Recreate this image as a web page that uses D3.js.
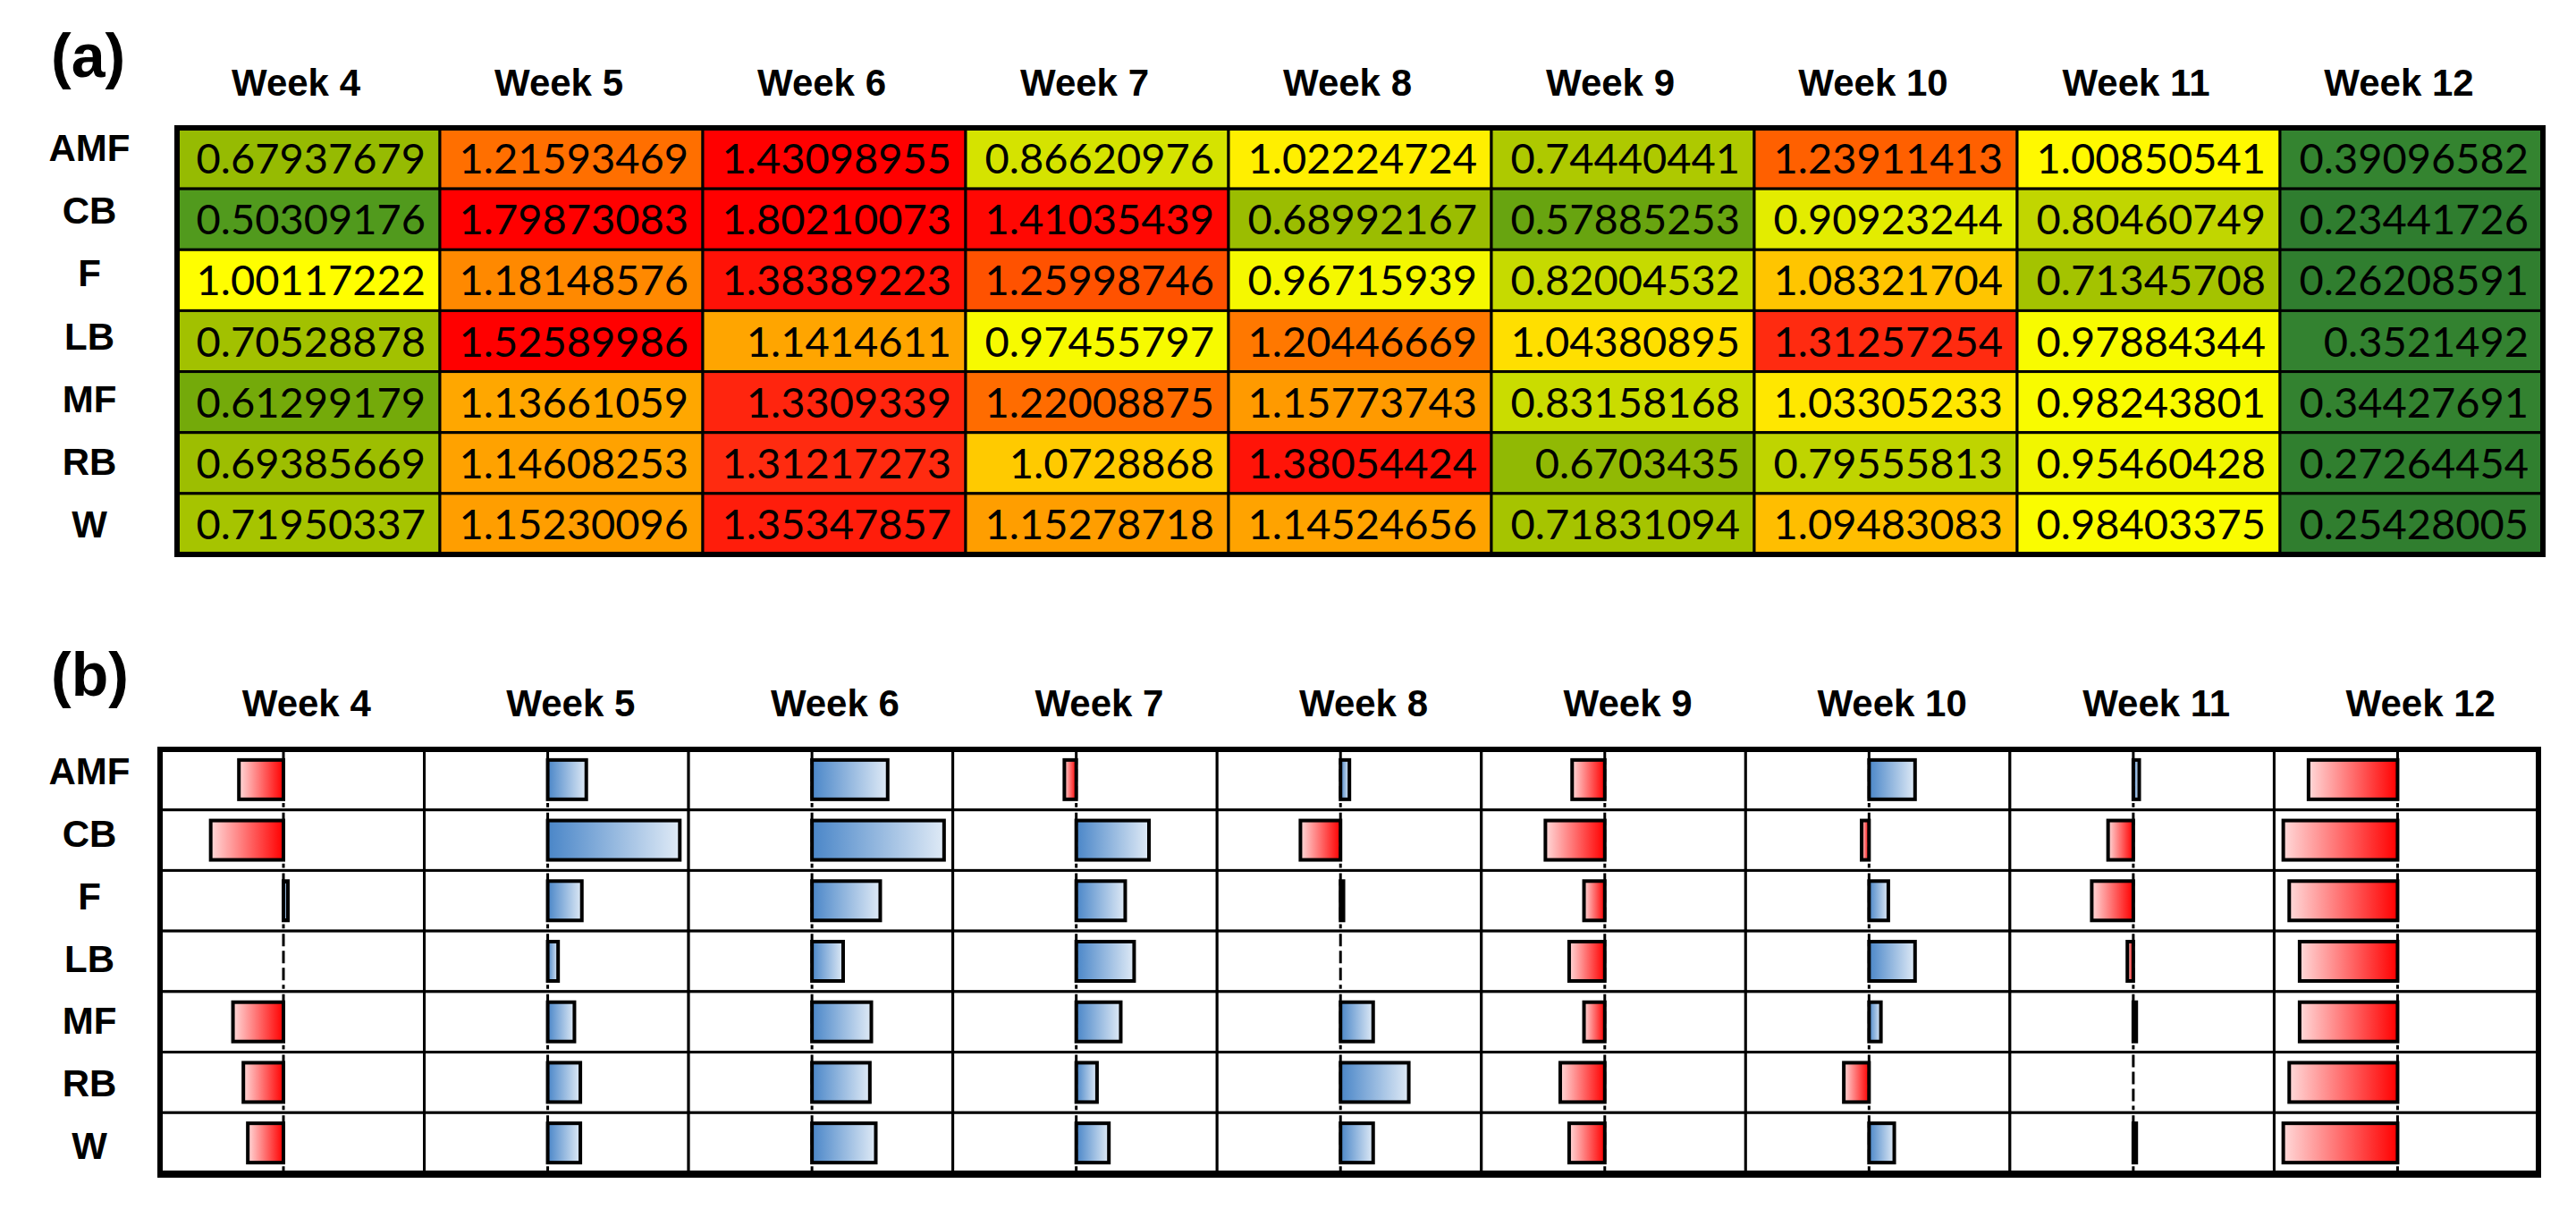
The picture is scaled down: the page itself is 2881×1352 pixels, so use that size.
<!DOCTYPE html>
<html lang="en">

<head>
    <meta charset="utf-8">
    <title>weekly ratios</title>
</head>
<style>
    body {
        margin: 0;
        background: white;
    }

    .head {
        font-family: "Liberation Sans", Arial, sans-serif;
        font-weight: bold;
    }

    .cell text {
        font-family: Lato, "Open Sans", sans-serif;
    }
</style>

<body>
    <script src="https://cdn.jsdelivr.net/npm/d3@7"></script>
    <script>
        // categories
        var weeks = ["Week 4", "Week 5", "Week 6", "Week 7", "Week 8", "Week 9", "Week 10", "Week 11", "Week 12"];
        var groups = ["AMF", "CB", "F", "LB", "MF", "RB", "W"];

        // (a) ratio per week, one list per group
        var ratioAMF = [0.67937679, 1.21593469, 1.43098955, 0.86620976, 1.02224724, 0.74440441, 1.23911413, 1.00850541, 0.39096582];
        var ratioCB = [0.50309176, 1.79873083, 1.80210073, 1.41035439, 0.68992167, 0.57885253, 0.90923244, 0.80460749, 0.23441726];
        var ratioF = [1.00117222, 1.18148576, 1.38389223, 1.25998746, 0.96715939, 0.82004532, 1.08321704, 0.71345708, 0.26208591];
        var ratioLB = [0.70528878, 1.52589986, 1.1414611, 0.97455797, 1.20446669, 1.04380895, 1.31257254, 0.97884344, 0.3521492];
        var ratioMF = [0.61299179, 1.13661059, 1.3309339, 1.22008875, 1.15773743, 0.83158168, 1.03305233, 0.98243801, 0.34427691];
        var ratioRB = [0.69385669, 1.14608253, 1.31217273, 1.0728868, 1.38054424, 0.6703435, 0.79555813, 0.95460428, 0.27264454];
        var ratioW = [0.71950337, 1.15230096, 1.35347857, 1.15278718, 1.14524656, 0.71831094, 1.09483083, 0.98403375, 0.25428005];

        // (b) data bar values per week, one list per group
        var barAMF = [-0.30, 0.26, 0.51, -0.08, 0.06, -0.22, 0.31, 0.04, -0.60];
        var barCB = [-0.49, 0.89, 0.89, 0.49, -0.27, -0.40, -0.05, -0.17, -0.77];
        var barF = [0.03, 0.23, 0.46, 0.33, 0.02, -0.14, 0.13, -0.28, -0.73];
        var barLB = [0, 0.07, 0.21, 0.39, 0, -0.24, 0.31, -0.04, -0.66];
        var barMF = [-0.34, 0.18, 0.40, 0.30, 0.22, -0.14, 0.08, 0.02, -0.66];
        var barRB = [-0.27, 0.22, 0.39, 0.14, 0.46, -0.30, -0.17, 0, -0.73];
        var barW = [-0.24, 0.22, 0.43, 0.22, 0.22, -0.24, 0.17, 0.02, -0.77];

        var ratioRows = [ratioAMF, ratioCB, ratioF, ratioLB, ratioMF, ratioRB, ratioW];
        var barRows = [barAMF, barCB, barF, barLB, barMF, barRB, barW];

        var width = 2881, height = 1352;

        var svg = d3.select("body")
            .append("svg")
            .attr("width", width)
            .attr("height", height);

        var defs = svg.append("defs");
        var gradRed = defs.append("linearGradient").attr("id", "gradRed");
        gradRed.append("stop").attr("offset", "0%").attr("stop-color", "#ffd9d9");
        gradRed.append("stop").attr("offset", "100%").attr("stop-color", "#ff0000");
        var gradBlue = defs.append("linearGradient").attr("id", "gradBlue");
        gradBlue.append("stop").attr("offset", "0%").attr("stop-color", "#4a86c8");
        gradBlue.append("stop").attr("offset", "100%").attr("stop-color", "#dfeaf6");

        // green - yellow - red colour scale for the table
        var color = d3.scaleLinear()
            .domain([0.23, 0.42, 0.5, 0.6, 0.7, 0.85, 1, 1.07, 1.15, 1.22, 1.26, 1.31, 1.38, 1.43])
            .range(["#2f7d2f", "#358530", "#509a1e", "#6ea70c", "#a0c000", "#d0e000", "#ffff00",
                "#ffcc00", "#ffa000", "#ff6c00", "#ff5200", "#ff2c10", "#ff1408", "#ff0000"])
            .clamp(true);

        // ---------- (a) ----------
        var xA = d3.scaleBand().domain(weeks).range([198, 2844]);
        var yA = d3.scaleBand().domain(groups).range([143, 620]);
        var labA = d3.scalePoint().domain(groups).range([165, 586]);

        var gA = svg.append("g");

        gA.append("text").attr("class", "head")
            .attr("x", 57).attr("y", 86)
            .attr("font-size", 68)
            .text("(a)");

        gA.selectAll("text.week")
            .data(weeks)
            .join("text")
            .attr("class", "head week")
            .attr("x", d => xA(d) + xA.bandwidth() / 2 - 14)
            .attr("y", 107)
            .attr("text-anchor", "middle")
            .attr("font-size", 42)
            .text(d => d);

        gA.selectAll("text.grp")
            .data(groups)
            .join("text")
            .attr("class", "head grp")
            .attr("x", 100)
            .attr("y", d => labA(d) + 15)
            .attr("text-anchor", "middle")
            .attr("font-size", 42)
            .text(d => d);

        var cells = [];
        groups.forEach((g, i) => {
            weeks.forEach((w, j) => {
                cells.push({ group: g, week: w, value: ratioRows[i][j] });
            });
        });

        var cell = gA.append("g")
            .attr("class", "cell")
            .selectAll("g")
            .data(cells)
            .join("g");

        cell.append("rect")
            .attr("x", d => xA(d.week))
            .attr("y", d => yA(d.group))
            .attr("width", xA.bandwidth())
            .attr("height", yA.bandwidth())
            .attr("fill", d => color(d.value))
            .attr("stroke", "#000")
            .attr("stroke-width", 3);

        cell.append("text")
            .attr("x", d => xA(d.week) + xA.bandwidth() - 16)
            .attr("y", d => yA(d.group) + yA.bandwidth() / 2 + 17)
            .attr("text-anchor", "end")
            .attr("font-size", 47)
            .attr("fill", "#000")
            .text(d => String(d.value));

        gA.append("rect")
            .attr("x", 198).attr("y", 143)
            .attr("width", 2844 - 198).attr("height", 620 - 143)
            .attr("fill", "none")
            .attr("stroke", "#000")
            .attr("stroke-width", 6);

        // ---------- (b) ----------
        var xB = d3.scaleBand().domain(weeks).range([179, 2839]);
        var yB = d3.scaleBand().domain(groups).range([838, 1312]);
        var labB = d3.scalePoint().domain(groups).range([862, 1281]);
        var barLen = d3.scaleLinear().domain([0, 1]).range([0, 166]);
        var base = w => xB(w) + 138;
        var barH = 44;

        var gB = svg.append("g");

        gB.append("text").attr("class", "head")
            .attr("x", 57).attr("y", 778)
            .attr("font-size", 68)
            .text("(b)");

        gB.selectAll("text.week")
            .data(weeks)
            .join("text")
            .attr("class", "head week")
            .attr("x", d => xB(d) + xB.bandwidth() / 2 + 16)
            .attr("y", 801)
            .attr("text-anchor", "middle")
            .attr("font-size", 42)
            .text(d => d);

        gB.selectAll("text.grp")
            .data(groups)
            .join("text")
            .attr("class", "head grp")
            .attr("x", 100)
            .attr("y", d => labB(d) + 15)
            .attr("text-anchor", "middle")
            .attr("font-size", 42)
            .text(d => d);

        var bars = [];
        groups.forEach((g, i) => {
            weeks.forEach((w, j) => {
                bars.push({ group: g, week: w, value: barRows[i][j] });
            });
        });

        gB.append("g")
            .selectAll("rect")
            .data(bars)
            .join("rect")
            .attr("x", d => xB(d.week))
            .attr("y", d => yB(d.group))
            .attr("width", xB.bandwidth())
            .attr("height", yB.bandwidth())
            .attr("fill", "white")
            .attr("stroke", "#000")
            .attr("stroke-width", 3);

        gB.append("g")
            .selectAll("rect")
            .data(bars.filter(d => d.value != 0))
            .join("rect")
            .attr("x", d => base(d.week) + Math.min(0, barLen(d.value)))
            .attr("y", d => yB(d.group) + (yB.bandwidth() - barH) / 2)
            .attr("width", d => Math.abs(barLen(d.value)))
            .attr("height", barH)
            .attr("fill", d => d.value < 0 ? "url(#gradRed)" : "url(#gradBlue)")
            .attr("stroke", "#000")
            .attr("stroke-width", 4);

        // dashed axis in every cell
        gB.append("g")
            .selectAll("line")
            .data(bars)
            .join("line")
            .attr("x1", d => base(d.week))
            .attr("x2", d => base(d.week))
            .attr("y1", d => yB(d.group) + 3)
            .attr("y2", d => yB(d.group) + yB.bandwidth() - 3)
            .attr("stroke", "#000")
            .attr("stroke-width", 3)
            .attr("stroke-dasharray", "14,5");

        gB.append("rect")
            .attr("x", 179).attr("y", 838)
            .attr("width", 2839 - 179).attr("height", 1312 - 838)
            .attr("fill", "none")
            .attr("stroke", "#000")
            .attr("stroke-width", 6);
        gB.append("line")
            .attr("x1", 176).attr("x2", 2842)
            .attr("y1", 1313).attr("y2", 1313)
            .attr("stroke", "#000")
            .attr("stroke-width", 8);

    </script>
</body>

</html>
